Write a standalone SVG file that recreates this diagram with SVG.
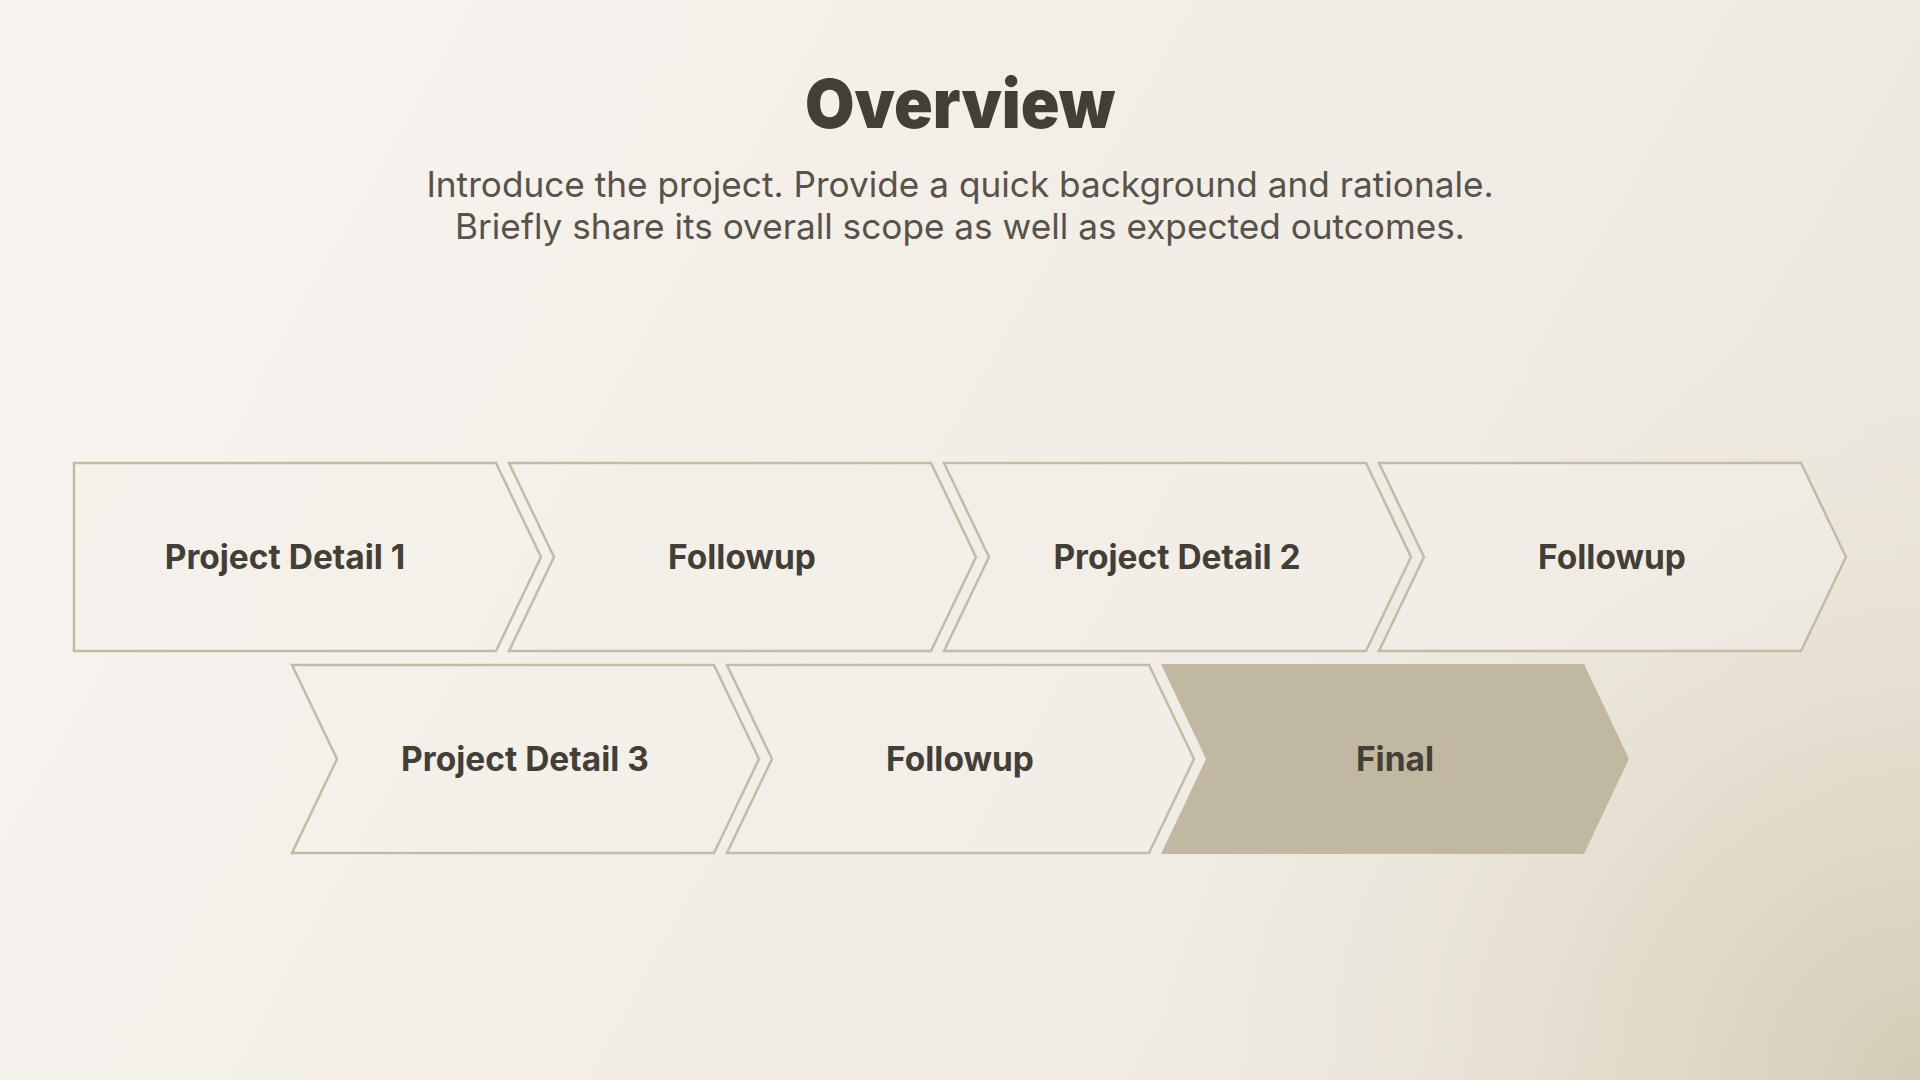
<svg xmlns="http://www.w3.org/2000/svg" width="1920" height="1080" viewBox="0 0 1920 1080">
  <defs>
    <linearGradient id="bg" x1="0" y1="0" x2="1920" y2="1080" gradientUnits="userSpaceOnUse">
      <stop offset="0" stop-color="#f8f4ef"/>
      <stop offset="0.6" stop-color="#f1ece5"/>
      <stop offset="1" stop-color="#ebe5da"/>
    </linearGradient>
    <radialGradient id="corner" cx="1920" cy="1080" r="760" gradientUnits="userSpaceOnUse">
      <stop offset="0" stop-color="#d5ccb6" stop-opacity="1"/>
      <stop offset="0.4" stop-color="#ddd5c3" stop-opacity="0.65"/>
      <stop offset="1" stop-color="#ebe5da" stop-opacity="0"/>
    </radialGradient>
    <style>
      .title { font-family: Inter, "Liberation Sans", sans-serif; font-weight: 900; font-size: 68px; fill: #433e36; }
      .sub { font-family: Inter, "Liberation Sans", sans-serif; font-weight: 400; font-size: 35.2px; fill: #57524a; }
      .chev { fill: #f4f0ea; fill-opacity: 0.5; stroke: #c2bba5; stroke-width: 2.5; stroke-linejoin: miter; }
      .chev-final { fill: #c0b8a0; stroke: none; }
      .lbl { font-family: Inter, "Liberation Sans", sans-serif; font-weight: 700; font-size: 33.5px; fill: #433e36; text-anchor: middle; }
    </style>
  </defs>
  <rect width="1920" height="1080" fill="url(#bg)"/>
  <rect width="1920" height="1080" fill="url(#corner)"/>

  <g id="header">
    <text class="title" x="960" y="128" text-anchor="middle" textLength="310" lengthAdjust="spacingAndGlyphs">Overview</text>
    <text class="sub" x="960" y="197" text-anchor="middle">Introduce the project. Provide a quick background and rationale.</text>
    <text class="sub" x="960" y="239" text-anchor="middle">Briefly share its overall scope as well as expected outcomes.</text>
  </g>

  <g id="connectors"></g>

  <g id="node-project-detail-1">
    <path class="chev" d="M74,463 H496 L541,557 L496,651 H74 Z"/>
    <text class="lbl" x="285" y="569">Project Detail 1</text>
  </g>
  <g id="node-followup-1">
    <path class="chev" d="M509,463 H931 L976,557 L931,651 H509 L554,557 Z"/>
    <text class="lbl" x="742" y="569">Followup</text>
  </g>
  <g id="node-project-detail-2">
    <path class="chev" d="M944,463 H1366 L1411,557 L1366,651 H944 L989,557 Z"/>
    <text class="lbl" x="1177" y="569">Project Detail 2</text>
  </g>
  <g id="node-followup-2">
    <path class="chev" d="M1379,463 H1801 L1846,557 L1801,651 H1379 L1424,557 Z"/>
    <text class="lbl" x="1612" y="569">Followup</text>
  </g>
  <g id="node-project-detail-3">
    <path class="chev" d="M292,665 H714 L759,759 L714,853 H292 L337,759 Z"/>
    <text class="lbl" x="525" y="771">Project Detail 3</text>
  </g>
  <g id="node-followup-3">
    <path class="chev" d="M727,665 H1149 L1194,759 L1149,853 H727 L772,759 Z"/>
    <text class="lbl" x="960" y="771">Followup</text>
  </g>
  <g id="node-final">
    <path class="chev-final" d="M1161,664 H1584 L1629,759 L1584,854 H1161 L1206,759 Z"/>
    <text class="lbl" x="1395" y="771">Final</text>
  </g>
</svg>
